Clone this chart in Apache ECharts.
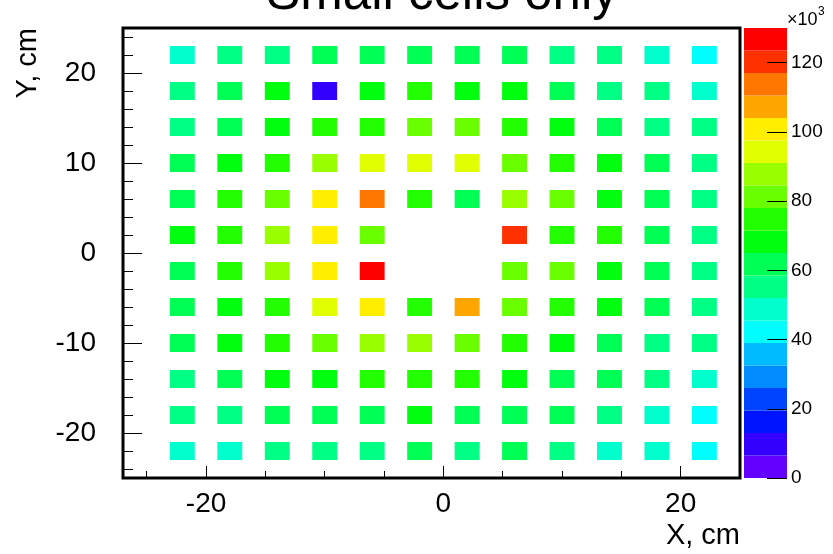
<!DOCTYPE html>
<html><head><meta charset="utf-8">
<script src="https://cdn.jsdelivr.net/npm/echarts@6/dist/echarts.min.js"></script>
<style>html,body{margin:0;padding:0;background:#fff}#c{width:833px;height:554px}</style>
</head><body><div id="c"></div>
<script>
// ---- data (values in units of 10^3) ----
const xCenters = [-22, -18, -14, -10, -6, -2, 2, 6, 10, 14, 18, 22];
const yCenters = [22, 18, 14, 10, 6, 2, -2, -6, -10, -14, -18, -22];
const rowY22  = [49, 55, 56, 60, 61, 62, 61, 60, 56, 55, 48, 43];
const rowY18  = [56, 61, 68, 10, 69, 74, 70, 68, 62, 57, 55, 49];
const rowY14  = [56, 62, 69, 73, 75, 80, 81, 76, 68, 62, 56, 54];
const rowY10  = [61, 68, 74, 88, 94, 95, 93, 81, 75, 67, 62, 57];
const rowY6   = [63, 74, 82, 100, 114, 76, 62, 87, 80, 69, 61, 56];
const rowY2   = [67, 75, 87, 101, 82, null, null, 120, 74, 73, 62, 55];
const rowYm2  = [62, 76, 88, 99, 127, null, null, 80, 81, 69, 61, 56];
const rowYm6  = [61, 69, 75, 94, 100, 74, 107, 82, 76, 68, 62, 56];
const rowYm10 = [62, 70, 74, 80, 87, 86, 81, 75, 68, 61, 56, 55];
const rowYm14 = [56, 61, 67, 69, 73, 75, 74, 69, 63, 60, 55, 50];
const rowYm18 = [55, 57, 60, 61, 62, 66, 63, 62, 60, 56, 49, 44];
const rowYm22 = [48, 47, 54, 55, 57, 60, 56, 60, 55, 50, 49, 43];
const rows = [rowY22, rowY18, rowY14, rowY10, rowY6, rowY2, rowYm2, rowYm6, rowYm10, rowYm14, rowYm18, rowYm22];

const xMajorTicks = [-20, 0, 20];
const xMinorTicks = [-25, -15, -10, -5, 5, 10, 15];
const yMajorTicks = [-20, -10, 0, 10, 20];
const yMinorTicks = [-24, -22, -18, -16, -14, -12, -8, -6, -4, -2, 2, 4, 6, 8, 12, 14, 16, 18, 22, 24];
const zTicks = [0, 20, 40, 60, 80, 100, 120];
const zMax = 130;
const nLevels = 20;

// ---- style ----
const PALETTE = ['#6300ff','#3300ff','#0014ff','#0044ff','#008bff','#00bbff','#00fffc','#00ffcc','#00ff85','#00ff55',
                 '#00ff0e','#22ff00','#69ff00','#99ff00','#e0ff00','#ffee00','#ffa700','#ff7700','#ff3000','#ff0000'];
const FONT = '"Liberation Sans", Arial, Helvetica, sans-serif';
const CELL_W = 2.1, CELL_H = 2.0;

function colorFor(v) {
  let k = Math.floor(v / (zMax / nLevels));
  if (k < 0) k = 0; if (k > nLevels - 1) k = nLevels - 1;
  return PALETTE[k];
}

const cellData = [];
rows.forEach((r, j) => r.forEach((v, i) => { if (v !== null) cellData.push([xCenters[i], yCenters[j], v]); }));
const bandData = [];
for (let k = 0; k < nLevels; k++) bandData.push([0.5, k * zMax / nLevels, (k + 1) * zMax / nLevels]);

const chart = echarts.init(document.getElementById('c'), null, {renderer: 'canvas'});
const tickLine = {color: '#000', width: 1};
const noLine = {show: false, onZero: false};
chart.setOption({
  animation: false,
  backgroundColor: '#fff',
  grid: [
    {left: 123, top: 28, width: 617, height: 450, show: true, borderColor: '#000', borderWidth: 3, backgroundColor: 'transparent'},
    {left: 744, top: 28, width: 43, height: 450, show: false}
  ],
  xAxis: [
    {type: 'value', gridIndex: 0, min: -27, max: 25, position: 'bottom', z: 10,
     axisLine: noLine, splitLine: {show: false},
     axisTick: {show: true, inside: true, length: 12, customValues: xMajorTicks, lineStyle: tickLine},
     axisLabel: {show: true, customValues: xMajorTicks, fontSize: 28, color: '#000', fontFamily: FONT, margin: 12}},
    {type: 'value', gridIndex: 0, min: -27, max: 25, position: 'bottom', z: 10,
     axisLine: noLine, splitLine: {show: false},
     axisTick: {show: true, inside: true, length: 7, customValues: xMinorTicks, lineStyle: tickLine},
     axisLabel: {show: false}},
    {type: 'value', gridIndex: 1, min: 0, max: 1, show: false, axisLine: noLine}
  ],
  yAxis: [
    {type: 'value', gridIndex: 0, min: -25, max: 25, position: 'left', z: 10,
     axisLine: noLine, splitLine: {show: false},
     axisTick: {show: true, inside: true, length: 19, customValues: yMajorTicks, lineStyle: tickLine},
     axisLabel: {show: true, customValues: yMajorTicks, fontSize: 28, color: '#000', fontFamily: FONT, margin: 27}},
    {type: 'value', gridIndex: 0, min: -25, max: 25, position: 'left', z: 10,
     axisLine: noLine, splitLine: {show: false},
     axisTick: {show: true, inside: true, length: 10, customValues: yMinorTicks, lineStyle: tickLine},
     axisLabel: {show: false}},
    {type: 'value', gridIndex: 1, min: 0, max: zMax, position: 'right', z: 10,
     axisLine: noLine, splitLine: {show: false},
     axisTick: {show: true, inside: true, length: 20, customValues: zTicks, lineStyle: tickLine},
     axisLabel: {show: true, customValues: zTicks, fontSize: 19, color: '#000', fontFamily: FONT, margin: 4}}
  ],
  series: [
    {type: 'custom', xAxisIndex: 0, yAxisIndex: 0, data: cellData, encode: {x: 0, y: 1},
     renderItem: function (params, api) {
       const x = api.value(0), y = api.value(1), v = api.value(2);
       const p0 = api.coord([x - CELL_W / 2, y + CELL_H / 2]);
       const p1 = api.coord([x + CELL_W / 2, y - CELL_H / 2]);
       return {type: 'rect', shape: {x: p0[0], y: p0[1], width: p1[0] - p0[0], height: p1[1] - p0[1]},
               style: {fill: colorFor(v)}};
     }},
    {type: 'custom', xAxisIndex: 2, yAxisIndex: 2, data: bandData, encode: {x: 0, y: [1, 2]},
     renderItem: function (params, api) {
       const lo = api.value(1), hi = api.value(2);
       const p0 = api.coord([0, hi]);
       const p1 = api.coord([1, lo]);
       return {type: 'rect', shape: {x: p0[0], y: p0[1], width: p1[0] - p0[0], height: p1[1] - p0[1]},
               style: {fill: colorFor((lo + hi) / 2)}};
     }}
  ],
  graphic: [
    {type: 'text', x: 442, y: -5, style: {text: 'Small cells only', font: '51px ' + FONT, fill: '#000', align: 'center', verticalAlign: 'middle'}},
    {type: 'text', x: 740, y: 536, style: {text: 'X, cm', font: '29px ' + FONT, fill: '#000', align: 'right', verticalAlign: 'middle'}},
    {type: 'text', x: 28, y: 28, rotation: Math.PI / 2, style: {text: 'Y, cm', font: '29px ' + FONT, fill: '#000', align: 'right', verticalAlign: 'middle'}},
    {type: 'text', x: 787, y: 20, style: {text: '\u00d710', font: '18px ' + FONT, fill: '#000', align: 'left', verticalAlign: 'middle'}},
    {type: 'text', x: 818, y: 12, style: {text: '3', font: '12px ' + FONT, fill: '#000', align: 'left', verticalAlign: 'middle'}}
  ]
});
</script>
</body></html>
